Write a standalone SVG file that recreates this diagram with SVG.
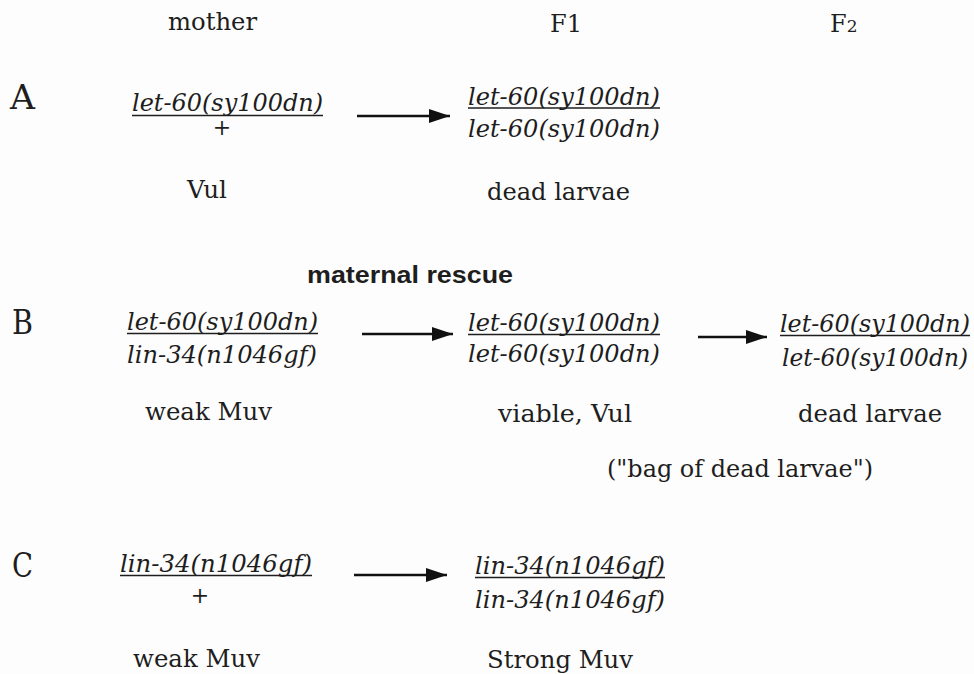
<svg xmlns="http://www.w3.org/2000/svg" width="974" height="674" viewBox="0 0 974 674">
<style>
.t{font-family:"DejaVu Serif","Liberation Serif",serif;font-size:24px;fill:#1e1e1e}
.g{font-family:"DejaVu Serif","Liberation Serif",serif;font-style:italic;font-size:24px;fill:#1e1e1e}
.p{font-family:"DejaVu Serif","Liberation Serif",serif;font-size:22px;fill:#1e1e1e;text-anchor:middle}
.lbl{font-family:"DejaVu Serif","Liberation Serif",serif;font-size:33px;fill:#1e1e1e}
.mr{font-family:"Liberation Sans",Arial,sans-serif;font-weight:bold;font-size:24px;fill:#1e1e1e}
.ul{stroke:#1e1e1e;stroke-width:1.7}
.arr{stroke:#111;stroke-width:2.4;fill:none;marker-end:url(#ah)}
</style>
<defs>
<marker id="ah" markerUnits="userSpaceOnUse" markerWidth="22" markerHeight="14" refX="21" refY="7" orient="auto">
<path d="M0,0 L21,7 L0,14 Z" fill="#111"/>
</marker>
</defs>
<rect width="974" height="674" fill="#fdfdfd"/>

<g id="header">
<text class="t" x="168" y="30" textLength="89" lengthAdjust="spacingAndGlyphs">mother</text>
<text class="t" x="550" y="32" font-size="26" textLength="32" lengthAdjust="spacingAndGlyphs">F1</text>
<text class="t" x="830" y="32" font-size="26">F<tspan font-size="17">2</tspan></text>
</g>

<g id="labelA"><text class="lbl" x="10" y="109" textLength="25" lengthAdjust="spacingAndGlyphs">A</text></g>
<g id="labelB"><text class="lbl" x="12" y="334" textLength="21" lengthAdjust="spacingAndGlyphs">B</text></g>
<g id="labelC"><text class="lbl" x="12" y="577" textLength="21" lengthAdjust="spacingAndGlyphs">C</text></g>

<g id="A-mother">
<text class="g" x="132" y="111" textLength="191" lengthAdjust="spacingAndGlyphs">let-60(sy100dn)</text>
<line class="ul" x1="132" y1="115.5" x2="323" y2="115.5"/>
<text class="p" x="222" y="135">+</text>
<text class="t" x="187" y="198" textLength="40" lengthAdjust="spacingAndGlyphs">Vul</text>
</g>

<g id="A-F1">
<text class="g" x="468" y="105" textLength="192" lengthAdjust="spacingAndGlyphs">let-60(sy100dn)</text>
<line class="ul" x1="468" y1="108" x2="660" y2="108"/>
<text class="g" x="468" y="137" textLength="192" lengthAdjust="spacingAndGlyphs">let-60(sy100dn)</text>
<text class="t" x="487" y="200" textLength="143" lengthAdjust="spacingAndGlyphs">dead larvae</text>
</g>

<g id="maternal-rescue">
<text class="mr" x="307" y="283" textLength="206" lengthAdjust="spacingAndGlyphs">maternal rescue</text>
</g>

<g id="B-mother">
<text class="g" x="127" y="330" textLength="191" lengthAdjust="spacingAndGlyphs">let-60(sy100dn)</text>
<line class="ul" x1="127" y1="333.5" x2="318" y2="333.5"/>
<text class="g" x="127" y="363" textLength="190" lengthAdjust="spacingAndGlyphs">lin-34(n1046gf)</text>
<text class="t" x="145" y="420" textLength="127" lengthAdjust="spacingAndGlyphs">weak Muv</text>
</g>

<g id="B-F1">
<text class="g" x="468" y="331" textLength="192" lengthAdjust="spacingAndGlyphs">let-60(sy100dn)</text>
<line class="ul" x1="468" y1="334.5" x2="660" y2="334.5"/>
<text class="g" x="468" y="362" textLength="192" lengthAdjust="spacingAndGlyphs">let-60(sy100dn)</text>
<text class="t" x="498" y="422" textLength="134" lengthAdjust="spacingAndGlyphs">viable, Vul</text>
<text class="t" x="607" y="477" textLength="266" lengthAdjust="spacingAndGlyphs">("bag of dead larvae")</text>
</g>

<g id="B-F2">
<text class="g" x="780" y="332" textLength="190" lengthAdjust="spacingAndGlyphs">let-60(sy100dn)</text>
<line class="ul" x1="780" y1="335.5" x2="970" y2="335.5"/>
<text class="g" x="782" y="366" textLength="186" lengthAdjust="spacingAndGlyphs">let-60(sy100dn)</text>
<text class="t" x="798" y="422" textLength="144" lengthAdjust="spacingAndGlyphs">dead larvae</text>
</g>

<g id="C-mother">
<text class="g" x="120" y="572" textLength="192" lengthAdjust="spacingAndGlyphs">lin-34(n1046gf)</text>
<line class="ul" x1="120" y1="575.5" x2="312" y2="575.5"/>
<text class="p" x="200" y="603">+</text>
<text class="t" x="133" y="667" textLength="127" lengthAdjust="spacingAndGlyphs">weak Muv</text>
</g>

<g id="C-F1">
<text class="g" x="475" y="574" textLength="190" lengthAdjust="spacingAndGlyphs">lin-34(n1046gf)</text>
<line class="ul" x1="475" y1="577.5" x2="665" y2="577.5"/>
<text class="g" x="475" y="608" textLength="190" lengthAdjust="spacingAndGlyphs">lin-34(n1046gf)</text>
<text class="t" x="487" y="668" textLength="146" lengthAdjust="spacingAndGlyphs">Strong Muv</text>
</g>

<g id="connectors">
<line class="arr" x1="357" y1="116" x2="450" y2="116"/>
<line class="arr" x1="362" y1="334" x2="453" y2="334"/>
<line class="arr" x1="698" y1="337" x2="767" y2="337"/>
<line class="arr" x1="354" y1="575" x2="447" y2="575"/>
</g>
</svg>
